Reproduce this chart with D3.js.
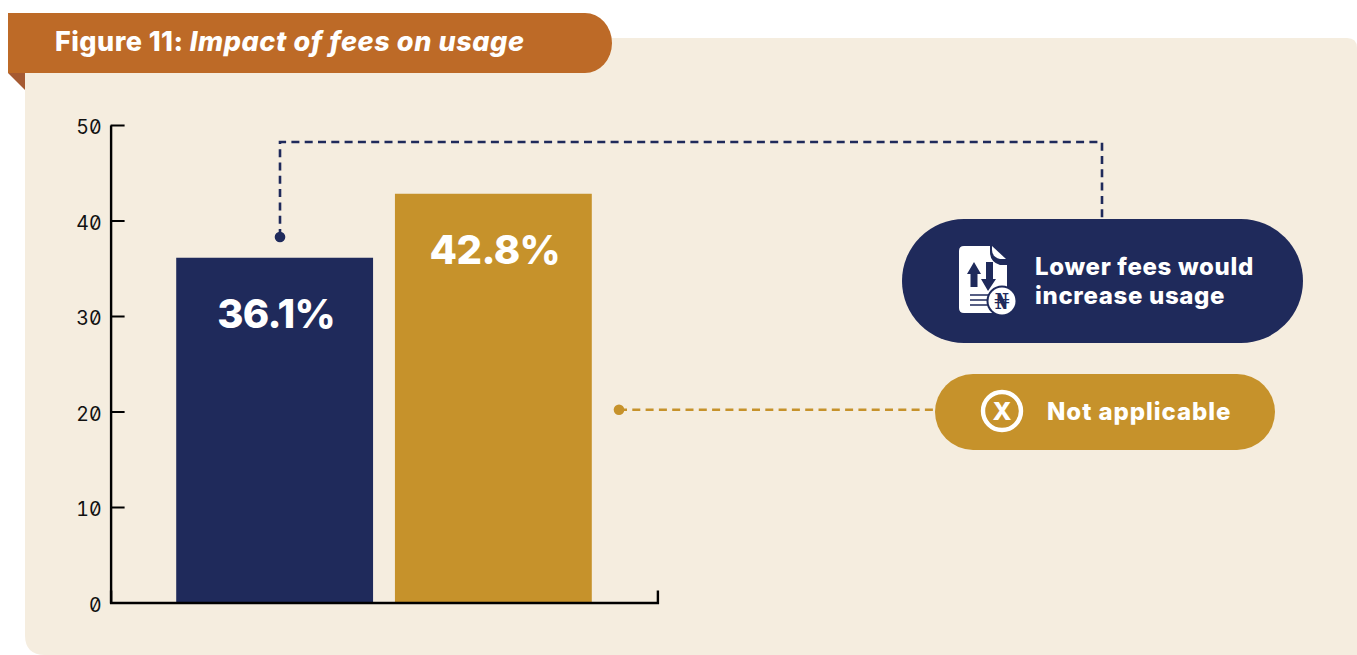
<!DOCTYPE html>
<html>
<head>
<meta charset="utf-8">
<script src="https://cdn.jsdelivr.net/npm/d3@7/dist/d3.min.js"></script>
<style>
html,body{margin:0;padding:0;background:#fff;}
svg{display:block;}
.tick text{font-family:"Inter",sans-serif;font-size:19.5px;font-feature-settings:"zero" 1,"tnum" 1;fill:#111;}
</style>
</head>
<body>
<svg id="chart" width="1357" height="655"></svg>
<script>
// Survey shares, in percent
const categories = ["Lower fees would increase usage", "Not applicable"];
const shares = [36.1, 42.8];
const barColors = ["#1f2a5b", "#c6922b"];
const yTicks = [0, 10, 20, 30, 40, 50];
const titleLead = "Figure 11: ";
const titleRest = "Impact of fees on usage";

const font = '"Inter",sans-serif';
const svg = d3.select("#chart");

// Panel and title ribbon
svg.append("path").attr("fill", "#f5eddf")
  .attr("d", "M25,38H1347Q1357,38 1357,48V655H45Q25,655 25,635Z");
svg.append("path").attr("fill", "#a55a32").attr("d", "M8,73H25V90Z");
svg.append("path").attr("fill", "#bd6a27")
  .attr("d", "M8,13H585A27,30 0 0 1 612,43A27,30 0 0 1 585,73H8Z");
const title = svg.append("text").attr("x", 55).attr("y", 51)
  .attr("fill", "#fff").attr("font-family", font).attr("font-size", 27).attr("font-weight", 800);
title.append("tspan").text(titleLead).attr("letter-spacing", 0.45);
title.append("tspan").text(titleRest).attr("font-style", "italic").attr("letter-spacing", 0.6);

// Scales
const x = d3.scaleBand().domain(categories).range([110.6, 657.4]).paddingInner(0.1).paddingOuter(0.3);
const y = d3.scaleLinear().domain([0, 50]).range([602.5, 125]);

// Bars and their value labels
svg.selectAll("rect.bar").data(categories).join("rect").attr("class", "bar")
  .attr("x", d => x(d)).attr("width", x.bandwidth())
  .attr("y", (d, i) => y(shares[i])).attr("height", (d, i) => y(0) - y(shares[i]))
  .attr("fill", (d, i) => barColors[i]);
svg.selectAll("text.value").data(categories).join("text").attr("class", "value")
  .attr("x", d => x(d) + x.bandwidth() / 2 + 1.5)
  .attr("y", (d, i) => y(shares[i]) + 70)
  .attr("text-anchor", "middle").attr("fill", "#fff")
  .attr("font-family", font).attr("font-size", 40).attr("font-weight", 800).attr("letter-spacing", -0.6)
  .text((d, i) => shares[i].toFixed(1) + "%");

// Axes
const yAxis = svg.append("g").attr("transform", "translate(110.6,0)")
  .call(d3.axisLeft(y).tickValues(yTicks).tickSizeInner(-14).tickSizeOuter(0).tickPadding(9));
yAxis.selectAll("line").attr("stroke", "#000").attr("stroke-width", 2);
yAxis.select(".domain").attr("stroke", "#000").attr("stroke-width", 2.4);
yAxis.selectAll("text").attr("dy", "0.45em");
const xAxis = svg.append("g").attr("transform", "translate(0,602.5)")
  .call(d3.axisBottom(x).tickValues([]).tickSizeOuter(-12));
xAxis.select(".domain").attr("stroke", "#000").attr("stroke-width", 2.4).attr("fill", "none");

// Leader lines from the bars to their legend pills
svg.append("path").attr("fill", "none").attr("stroke", barColors[0]).attr("stroke-width", 2.6)
  .attr("stroke-dasharray", "8 5.3").attr("d", "M280,237V142H1102V219");
svg.append("circle").attr("cx", 280).attr("cy", 237).attr("r", 5.3).attr("fill", barColors[0]);
svg.append("path").attr("fill", "none").attr("stroke", barColors[1]).attr("stroke-width", 2.6)
  .attr("stroke-dasharray", "8 5.3").attr("d", "M619,409.7H936");
svg.append("circle").attr("cx", 619).attr("cy", 409.7).attr("r", 5.3).attr("fill", barColors[1]);

// Legend pills
svg.append("rect").attr("x", 902).attr("y", 219).attr("width", 401).attr("height", 124).attr("rx", 62).attr("fill", barColors[0]);
svg.append("rect").attr("x", 935).attr("y", 374).attr("width", 340).attr("height", 76).attr("rx", 38).attr("fill", barColors[1]);

const pillText = [["Lower fees would", 1035, 275, 0.67], ["increase usage", 1035, 304, 0.67], ["Not applicable", 1047, 420, 0.95]];
svg.selectAll("text.pill").data(pillText).join("text").attr("class", "pill")
  .attr("x", d => d[1]).attr("y", d => d[2])
  .attr("fill", "#fff").attr("font-family", font).attr("font-size", 24).attr("font-weight", 800)
  .attr("letter-spacing", d => d[3]).text(d => d[0]);

// Fee document icon
const icon = svg.append("g");
icon.append("path").attr("fill", "#fff")
  .attr("d", "M964,246H990V252Q990,262 1000,265H1007V308Q1007,313 1002,313H964Q959,313 959,308V251Q959,246 964,246Z");
icon.append("path").attr("fill", "#fff").attr("d", "M992,246L1006,259H1000Q992,257 992,250Z");
icon.append("path").attr("fill", barColors[0]).attr("d", "M974,262L981,274H977.5V287H970.5V274H967Z");
icon.append("path").attr("fill", barColors[0]).attr("d", "M986,262H993V279H996L988,291L981,279H986Z");
icon.append("path").attr("stroke", barColors[0]).attr("stroke-width", 1.6)
  .attr("d", "M970,295H990M970,300H988M970,305H988");
icon.append("circle").attr("cx", 1002).attr("cy", 301).attr("r", 15.5).attr("fill", barColors[0]);
icon.append("circle").attr("cx", 1002).attr("cy", 301).attr("r", 13.5).attr("fill", "#fff");
icon.append("text").attr("x", 1002).attr("y", 308.5).attr("text-anchor", "middle")
  .attr("font-family", '"DejaVu Serif",serif').attr("font-size", 22).attr("font-weight", 700)
  .attr("fill", barColors[0]).text("₦");

// "Not applicable" icon
svg.append("circle").attr("cx", 1002).attr("cy", 411).attr("r", 19).attr("fill", "none").attr("stroke", "#fff").attr("stroke-width", 4.4);
svg.append("text").attr("x", 1002).attr("y", 420).attr("text-anchor", "middle")
  .attr("font-family", font).attr("font-size", 25).attr("font-weight", 800).attr("fill", "#fff").text("X");
</script>
</body>
</html>
